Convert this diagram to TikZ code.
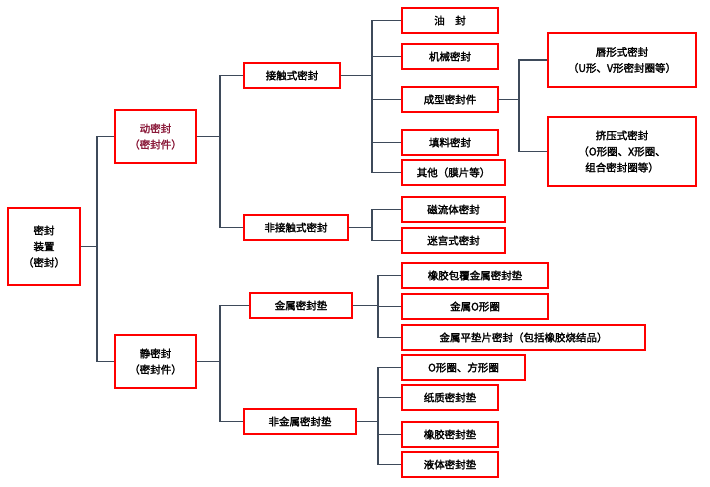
\documentclass[tikz,border=0pt]{standalone}
\usepackage{fontspec}
\setmainfont{Noto Sans CJK SC}[AutoFakeBold=2]
\definecolor{ln}{HTML}{3E4A5A}
\definecolor{dk}{HTML}{8B1A3A}
\newcommand{\bx}[6]{\node[bx,minimum width={#4-#2},minimum height={#5-#3}] (#1) at ({(#2+#4)/2},{(#3+#5)/2}) {#6};}
\begin{document}
\begin{tikzpicture}[x=1pt,y=-1pt,
  bx/.style={draw=red,line width=1.4pt,fill=white,inner sep=0pt,align=center,font=\bfseries\fontsize{10.5}{16}\selectfont},
  cn/.style={draw=ln,line width=1.2pt}]
\useasboundingbox (0,0) rectangle (710,487);
\coordinate (J1) at (97,0); \coordinate (J2) at (220,0); \coordinate (J3) at (372,0);
\coordinate (J4) at (519,0); \coordinate (J5) at (378,0);
\bx{root}{8}{208}{80}{285}{密封\\装置\\（密封）}
\bx{dong}{115}{110}{196}{163}{\textcolor{dk}{动密封}\\\textcolor{dk}{（密封件）}}
\bx{jing}{115}{335}{196}{388}{静密封\\（密封件）}
\bx{jc}{244}{63}{340}{88}{接触式密封}
\bx{fjc}{244}{215}{348}{240}{非接触式密封}
\bx{js}{250}{293}{352}{318}{金属密封垫}
\bx{fjs}{244}{409}{356}{434}{非金属密封垫}
\bx{a1}{402}{8}{498}{33}{油\quad 封}
\bx{a2}{402}{44}{498}{69}{机械密封}
\bx{a3}{402}{87}{498}{112}{成型密封件}
\bx{a4}{402}{130}{498}{155}{填料密封}
\bx{a5}{402}{160}{505}{185}{其他（膜片等）}
\bx{c1}{548}{33}{696}{87}{唇形式密封\\（U形、V形密封圈等）}
\bx{c2}{548}{117}{696}{186}{挤压式密封\\（O形圈、X形圈、\\组合密封圈等）}
\bx{b1}{402}{197}{505}{222}{磁流体密封}
\bx{b2}{402}{228}{505}{253}{迷宫式密封}
\bx{d1}{402}{263}{548}{288}{橡胶包覆金属密封垫}
\bx{d2}{402}{294}{548}{319}{金属O形圈}
\bx{d3}{402}{325}{645}{350}{金属平垫片密封（包括橡胶烧结品）}
\bx{e1}{402}{355}{525}{380}{O形圈、方形圈}
\bx{e2}{402}{385}{498}{410}{纸质密封垫}
\bx{e3}{402}{422}{498}{447}{橡胶密封垫}
\bx{e4}{402}{452}{498}{477}{液体密封垫}
\begin{scope}[on background layer/.style={}]
\foreach \p/\j/\c in {root/J1/dong,root/J1/jing,dong/J2/jc,dong/J2/fjc,jing/J2/js,jing/J2/fjs,
  jc/J3/a1,jc/J3/a2,jc/J3/a3,jc/J3/a4,jc/J3/a5,fjc/J3/b1,fjc/J3/b2,a3/J4/c1,a3/J4/c2,
  js/J5/d1,js/J5/d2,js/J5/d3,fjs/J5/e1,fjs/J5/e2,fjs/J5/e3,fjs/J5/e4}
  \draw[cn] (\p.east) -- (\p.east -| \j) |- (\c.west);
\end{scope}
\end{tikzpicture}
\end{document}
